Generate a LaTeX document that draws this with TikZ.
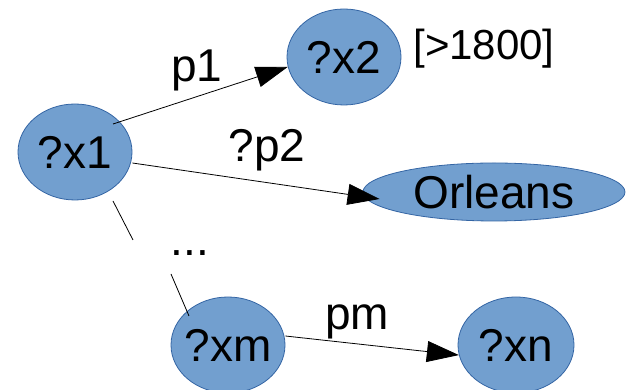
\documentclass[tikz,border=0pt]{standalone}
\usepackage{fontspec}
\setmainfont{Liberation Sans}
\usetikzlibrary{arrows.meta,shapes.geometric}
\definecolor{vxFill}{HTML}{729FCF}
\definecolor{vxLine}{HTML}{3465A4}
\tikzset{
  vbox/.style={ellipse,draw=vxLine,fill=vxFill,line width=0.8pt,
    minimum width=114pt,minimum height=96pt,inner sep=0pt,
    font=\fontsize{46}{50}\selectfont},
  % text that should not widen its ellipse
  vtext/.style={label={[font=\fontsize{46}{50}\selectfont,inner sep=0pt]center:#1}},
  lbl/.style={anchor=base,inner sep=0pt,font=\fontsize{46}{50}\selectfont},
  arr/.style={-{Triangle[length=32pt,width=21pt]},line width=0.8pt,black},
  lnk/.style={line width=0.8pt,black},
}
\begin{document}
\begin{tikzpicture}[x=1pt,y=1pt]
  \useasboundingbox (0,0) rectangle (626,390);

  % variables
  \node[vbox] (x1) at (75,238) {?x1};
  \node[vbox] (x2) at (344,333) {?x2};
  \node[vbox,minimum width=262pt,minimum height=58pt,vtext=Orleans]
    (orl) at (494,198) {};
  \node[vbox,vtext=?xm] (xm) at (228,45) {};
  \node[vbox,minimum width=116pt] (xn) at (516,45) {?xn};

  % predicate labels
  \node[lbl] (p1) at (197,308) {p1};
  \node[lbl] (p2) at (267,228) {?p2};
  \node[lbl] (pm) at (357,60) {pm};
  \node[lbl,font=\fontsize{42}{46}\selectfont] (flt) at (484,330) {[>1800]};
  \node[lbl] (dots) at (190,134) {...};

  % gap in the line down to ?xm
  \coordinate (gapA) at (133,150);
  \coordinate (gapB) at (171,116);

  \draw[arr] ([shift={(38pt,28pt)}]x1.center) -- (x2.190);
  \draw[arr] ([yshift=-11pt]x1.east) -- ([xshift=17pt,yshift=-7pt]orl.west);
  \draw[lnk] ([shift={(38pt,-49pt)}]x1.center) -- (gapA);
  \draw[lnk] (gapB) -- ([shift={(-39pt,29pt)}]xm.center);
  \draw[arr] ([yshift=9pt]xm.east) -- (xn.190);
\end{tikzpicture}
\end{document}
